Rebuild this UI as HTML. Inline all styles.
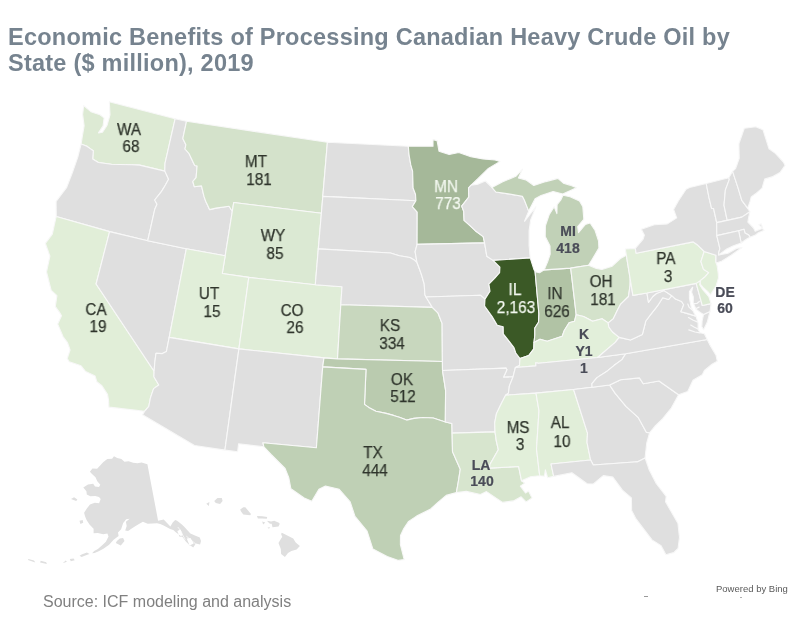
<!DOCTYPE html>
<html><head><meta charset="utf-8"><style>
html,body{margin:0;padding:0;background:#fff;}
body{width:811px;height:620px;position:relative;overflow:hidden;font-family:"Liberation Sans",Arial,sans-serif;-webkit-font-smoothing:antialiased;}
.t,.l,.src,.bing{will-change:transform;}
.t{position:absolute;left:8.4px;top:23.5px;font-weight:bold;font-size:23.5px;letter-spacing:0.24px;line-height:26px;color:#76838f;white-space:nowrap;}
svg{position:absolute;left:0;top:0;}
.l{position:absolute;width:80px;text-align:center;font-size:16.5px;line-height:1;color:#2f352c;white-space:nowrap;transform:scaleX(0.93);-webkit-text-stroke:0.25px #2f352c;}
.b{transform:none;}
.w{color:#f3f8f0;-webkit-text-stroke:0.25px #f3f8f0;}
.b{font-weight:bold;font-size:14.0px;color:#4a4c58;-webkit-text-stroke:0.2px #4a4c58;}
.src{position:absolute;left:42.5px;top:594.4px;font-size:16px;line-height:1;color:#808080;white-space:nowrap;}
.bing{position:absolute;left:715.5px;top:584px;font-size:9.5px;line-height:1;color:#5a5a5a;white-space:nowrap;}
</style></head><body>
<div class="t">Economic Benefits of Processing Canadian Heavy Crude Oil by<br>State ($ million), 2019</div>
<svg width="811" height="620" viewBox="0 0 811 620">
<g stroke="#f8f8f8" stroke-width="1.1" stroke-linejoin="round">
<path d="M81.1 144.0 82.6 134.6 84.1 125.8 82.6 114.2 83.7 105.6 90.9 111.7 100.0 114.8 104.1 117.9 103.1 125.9 98.5 132.9 102.5 132.2 107.1 125.2 110.0 114.9 109.3 101.8 175.1 118.8 165.0 163.4 164.8 171.1 139.6 165.1 132.0 164.7 119.2 164.5 111.5 164.3 98.4 162.5 92.7 159.0 93.3 150.8 90.1 148.6 86.9 146.2 81.1 144.0Z" fill="#ddead4"/>
<path d="M81.1 144.0 86.9 146.2 90.1 148.6 93.3 150.8 92.7 159.0 98.4 162.5 111.5 164.3 119.2 164.5 132.0 164.7 139.6 165.1 164.8 171.1 168.6 179.2 164.0 187.4 161.0 192.2 154.7 200.0 157.0 204.2 154.8 209.2 147.7 240.8 109.6 231.6 56.2 216.5 56.1 201.4 66.5 187.7 72.4 172.6 77.7 157.4 81.1 144.0Z" fill="#dfdfdf"/>
<path d="M56.2 216.5 109.6 231.6 96.1 284.0 154.1 371.2 153.9 376.7 158.8 385.0 153.6 388.6 150.4 398.0 148.8 406.3 144.7 411.2 108.9 407.1 108.5 400.2 107.5 394.4 101.9 385.7 96.8 381.7 95.1 376.1 85.6 371.6 81.0 365.8 69.2 361.8 67.2 358.5 70.1 349.9 67.5 342.7 63.1 336.8 57.7 324.1 61.5 315.8 59.5 312.4 55.3 306.6 56.9 295.7 51.2 290.3 46.5 272.0 49.9 256.1 45.3 243.3 52.3 234.2 56.2 216.5Z" fill="#e1eed8"/>
<path d="M109.6 231.6 147.7 240.8 186.3 248.8 169.2 337.4 166.4 351.6 162.4 353.6 156.0 353.2 154.8 362.2 154.1 371.2 96.1 284.0 109.6 231.6Z" fill="#dfdfdf"/>
<path d="M175.1 118.8 186.5 121.3 182.8 138.6 185.9 144.7 185.0 149.0 189.0 153.5 194.7 165.5 197.1 166.0 196.1 177.6 192.8 181.5 194.3 186.7 201.5 185.9 204.0 196.4 205.7 201.3 209.6 209.6 216.0 208.1 229.0 206.2 232.3 211.3 225.2 255.7 186.3 248.8 147.7 240.8 154.8 209.2 157.0 204.2 154.7 200.0 161.0 192.2 164.0 187.4 168.6 179.2 164.8 171.1 165.0 163.4 175.1 118.8Z" fill="#dfdfdf"/>
<path d="M186.5 121.3 327.4 142.3 322.8 196.4 321.4 213.2 233.7 202.5 232.3 211.3 229.0 206.2 216.0 208.1 209.6 209.6 205.7 201.3 204.0 196.4 201.5 185.9 194.3 186.7 192.8 181.5 196.1 177.6 197.1 166.0 194.7 165.5 189.0 153.5 185.0 149.0 185.9 144.7 182.8 138.6 186.5 121.3Z" fill="#d4e2cb"/>
<path d="M232.3 211.3 233.7 202.5 321.4 213.2 318.3 248.9 315.3 284.8 248.8 277.4 222.3 273.5 225.2 255.7 232.3 211.3Z" fill="#dbe9d3"/>
<path d="M225.2 255.7 222.3 273.5 248.8 277.4 238.9 348.9 169.2 337.4 186.3 248.8 225.2 255.7Z" fill="#e1eed9"/>
<path d="M248.8 277.4 315.3 284.8 342.0 286.8 340.8 304.8 337.5 358.9 324.0 357.9 238.9 348.9 248.8 277.4Z" fill="#e0edd8"/>
<path d="M169.2 337.4 238.9 348.9 224.9 450.1 194.5 445.5 142.5 414.8 144.7 411.2 148.8 406.3 150.4 398.0 153.6 388.6 158.8 385.0 153.9 376.7 154.1 371.2 154.8 362.2 156.0 353.2 162.4 353.6 166.4 351.6 169.2 337.4Z" fill="#dfdfdf"/>
<path d="M238.9 348.9 324.0 357.9 322.7 366.9 316.4 447.7 262.9 442.7 263.9 446.8 238.6 443.8 237.6 451.8 224.9 450.1 238.9 348.9Z" fill="#dfdfdf"/>
<path d="M327.4 142.3 408.3 146.2 409.1 155.1 410.8 164.9 412.6 171.1 413.1 188.0 415.5 194.2 415.9 200.7 322.8 196.4 327.4 142.3Z" fill="#dfdfdf"/>
<path d="M322.8 196.4 415.9 200.7 412.3 206.7 417.2 212.1 417.1 244.4 415.1 251.6 417.0 262.5 413.8 259.7 409.9 257.5 399.4 255.7 390.4 253.0 318.3 248.9 321.4 213.2 322.8 196.4Z" fill="#dfdfdf"/>
<path d="M318.3 248.9 390.4 253.0 399.4 255.7 409.9 257.5 413.8 259.7 417.0 262.5 419.0 267.8 421.6 275.0 424.2 284.0 424.9 294.8 426.0 297.0 432.3 307.4 340.8 304.8 342.0 286.8 315.3 284.8 318.3 248.9Z" fill="#dfdfdf"/>
<path d="M340.8 304.8 432.3 307.4 437.9 312.8 442.1 323.5 442.4 361.5 337.5 358.9 340.8 304.8Z" fill="#c8d7be"/>
<path d="M324.0 357.9 337.5 358.9 442.4 361.5 442.5 370.5 445.6 390.3 445.3 422.0 433.2 418.0 422.9 417.5 414.0 418.4 406.6 420.1 399.3 417.3 393.5 415.4 386.1 413.4 375.9 411.3 368.7 407.4 364.5 404.4 366.0 369.4 322.7 366.9 324.0 357.9Z" fill="#bacbaf"/>
<path d="M322.7 366.9 366.0 369.4 364.5 404.4 368.7 407.4 375.9 411.3 386.1 413.4 393.5 415.4 399.3 417.3 406.6 420.1 414.0 418.4 422.9 417.5 433.2 418.0 445.3 422.0 451.9 423.5 452.1 433.1 452.5 451.6 456.3 460.3 460.3 469.2 458.3 481.8 456.4 492.6 446.2 495.4 438.5 501.8 430.7 509.0 416.6 516.1 408.6 521.4 403.8 528.5 400.5 535.6 400.4 544.5 404.2 559.6 398.5 560.4 387.2 556.6 372.9 549.1 367.1 531.1 355.0 516.4 350.2 501.9 339.2 489.3 325.4 486.1 318.9 489.3 311.8 501.3 304.2 498.0 290.9 488.8 288.8 477.8 285.1 468.5 271.1 454.5 263.9 446.8 262.9 442.7 316.4 447.7 322.7 366.9Z" fill="#bfd0b5"/>
<path d="M408.3 146.2 433.0 146.3 433.0 139.6 437.1 140.6 439.0 151.2 449.2 154.5 458.8 152.5 470.9 156.8 483.0 158.9 495.1 160.0 500.1 161.4 488.4 168.4 477.9 178.7 470.9 185.3 468.5 188.0 468.8 197.0 461.7 206.1 463.7 211.4 464.1 220.4 470.0 225.6 475.3 230.7 483.2 236.6 484.6 242.9 417.1 244.4 417.2 212.1 412.3 206.7 415.9 200.7 415.5 194.2 413.1 188.0 412.6 171.1 410.8 164.9 409.1 155.1 408.3 146.2Z" fill="#a5b899"/>
<path d="M417.1 244.4 484.6 242.9 486.8 256.2 493.1 260.4 499.9 267.2 499.6 272.7 494.6 278.4 488.9 284.1 490.0 291.3 485.0 299.1 480.3 295.2 426.0 297.0 424.9 294.8 424.2 284.0 421.6 275.0 419.0 267.8 417.0 262.5 415.1 251.6 417.1 244.4Z" fill="#dfdfdf"/>
<path d="M426.0 297.0 480.3 295.2 485.0 299.1 484.6 306.0 492.0 316.4 497.3 325.2 503.2 326.7 503.3 333.9 509.4 341.6 514.0 347.7 515.8 353.0 520.0 358.5 519.5 365.4 515.4 367.5 513.1 376.7 503.5 377.3 506.9 369.8 506.1 368.1 442.5 370.5 442.4 361.5 442.1 323.5 437.9 312.8 432.3 307.4 426.0 297.0Z" fill="#dfdfdf"/>
<path d="M442.5 370.5 506.1 368.1 506.9 369.8 503.5 377.3 513.1 376.7 509.4 385.9 508.4 393.2 505.6 395.2 501.7 402.7 496.4 413.8 494.7 422.9 495.0 431.9 452.1 433.1 451.9 423.5 445.3 422.0 445.6 390.3 442.5 370.5Z" fill="#dfdfdf"/>
<path d="M452.1 433.1 495.0 431.9 496.3 440.8 498.3 449.7 489.9 464.5 489.5 468.1 518.6 466.5 521.5 480.7 524.8 483.1 520.4 486.1 525.5 493.0 528.5 491.0 532.1 497.9 526.1 501.9 521.1 496.8 513.5 500.9 502.6 502.4 496.2 498.3 486.5 491.6 480.4 494.5 466.3 491.4 456.4 492.6 458.3 481.8 460.3 469.2 456.3 460.3 452.5 451.6 452.1 433.1Z" fill="#d7e5ce"/>
<path d="M470.9 185.3 478.2 184.1 485.4 181.0 491.9 187.4 495.9 192.0 508.5 193.9 522.4 196.3 524.6 200.6 528.7 211.1 524.5 221.3 529.1 215.5 535.9 206.8 530.7 219.9 529.1 230.8 529.1 245.2 530.2 257.9 493.1 260.4 486.8 256.2 484.6 242.9 483.2 236.6 475.3 230.7 470.0 225.6 464.1 220.4 463.7 211.4 461.7 206.1 468.8 197.0 468.5 188.0 470.9 185.3Z" fill="#dfdfdf"/>
<path d="M493.1 260.4 530.2 257.9 533.8 269.2 535.1 271.8 538.9 314.0 538.5 322.2 534.8 328.0 534.8 335.2 534.0 342.5 533.8 348.9 528.7 355.6 520.0 358.5 515.8 353.0 514.0 347.7 509.4 341.6 503.3 333.9 503.2 326.7 497.3 325.2 492.0 316.4 484.6 306.0 485.0 299.1 490.0 291.3 488.9 284.1 494.6 278.4 499.6 272.7 499.9 267.2 493.1 260.4Z" fill="#3b5926"/>
<path d="M535.1 271.8 539.5 272.8 544.2 269.9 570.7 268.1 576.2 314.7 574.5 321.2 569.1 322.8 564.3 330.5 562.2 336.2 554.0 338.9 547.2 341.3 540.0 339.3 534.0 342.5 534.8 335.2 534.8 328.0 538.5 322.2 538.9 314.0 535.1 271.8Z" fill="#b1c3a5"/>
<path d="M544.2 269.9 547.7 261.6 550.2 254.1 550.0 246.0 545.2 236.5 545.4 225.7 549.3 214.4 554.2 206.7 556.9 213.6 557.1 204.6 561.0 199.6 563.0 195.3 570.1 196.7 579.5 201.0 582.8 206.8 583.8 219.3 577.7 226.5 578.5 232.7 585.2 224.6 590.1 223.0 595.1 230.5 598.5 240.9 598.9 248.1 592.4 259.0 588.6 265.3 570.7 268.1 544.2 269.9Z" fill="#c1d1b7"/>
<path d="M491.9 187.4 502.7 181.8 515.8 176.3 522.5 169.2 518.4 177.9 525.9 179.9 533.8 185.5 545.8 181.6 557.9 178.4 563.4 183.2 569.9 185.1 576.5 187.8 570.5 190.4 562.8 194.0 553.1 191.5 541.1 195.5 535.1 198.8 528.7 211.1 524.6 200.6 522.4 196.3 508.5 193.9 495.9 192.0 491.9 187.4Z" fill="#c1d1b7"/>
<path d="M570.7 268.1 588.6 265.3 596.4 268.4 601.9 269.5 612.2 266.2 620.4 258.5 626.3 255.2 630.2 279.0 630.1 285.2 628.5 296.5 620.7 304.1 617.5 310.1 613.2 318.9 608.2 322.9 602.0 318.7 592.6 321.2 583.6 316.5 576.2 314.7 570.7 268.1Z" fill="#d4e2cb"/>
<path d="M576.2 314.7 583.6 316.5 592.6 321.2 602.0 318.7 608.2 322.9 608.7 326.8 612.3 331.8 619.2 337.4 615.2 342.3 607.6 348.9 597.6 357.5 538.6 363.3 535.7 362.7 535.9 365.9 515.4 367.5 519.5 365.4 520.0 358.5 528.7 355.6 533.8 348.9 534.0 342.5 540.0 339.3 547.2 341.3 554.0 338.9 562.2 336.2 564.3 330.5 569.1 322.8 574.5 321.2 576.2 314.7Z" fill="#e2efda"/>
<path d="M515.4 367.5 535.9 365.9 535.7 362.7 538.6 363.3 597.6 357.5 625.7 353.7 622.0 359.6 614.2 365.3 607.7 370.7 597.0 377.6 591.9 383.7 592.1 387.3 573.6 389.5 536.0 393.1 505.6 395.2 508.4 393.2 509.4 385.9 513.1 376.7 515.4 367.5Z" fill="#dfdfdf"/>
<path d="M505.6 395.2 536.0 393.1 539.0 410.9 536.5 449.0 539.7 475.7 530.5 476.8 521.5 480.7 518.6 466.5 489.5 468.1 489.9 464.5 498.3 449.7 496.3 440.8 495.0 431.9 494.7 422.9 496.4 413.8 501.7 402.7 505.6 395.2Z" fill="#e2efda"/>
<path d="M536.0 393.1 573.6 389.5 587.5 433.2 587.0 442.3 590.6 460.0 551.0 464.0 553.7 476.4 547.6 477.8 545.4 469.9 544.4 476.3 539.7 475.7 536.5 449.0 539.0 410.9 536.0 393.1Z" fill="#e1eed9"/>
<path d="M573.6 389.5 592.1 387.3 609.6 385.0 615.2 393.4 626.0 406.4 638.1 417.3 646.5 432.4 649.6 432.8 646.7 443.2 645.1 458.0 637.2 461.9 634.1 462.0 593.3 465.0 590.6 460.0 587.0 442.3 587.5 433.2 573.6 389.5Z" fill="#dfdfdf"/>
<path d="M590.6 460.0 593.3 465.0 634.1 462.0 637.2 461.9 645.1 458.0 649.3 470.0 656.2 483.5 666.2 496.3 665.5 501.8 677.9 523.2 679.5 537.3 678.1 548.3 673.8 552.6 665.9 554.8 661.1 545.7 652.0 539.9 645.9 531.9 636.0 518.9 631.6 510.6 631.4 498.0 622.4 490.2 612.8 477.1 603.3 475.6 593.4 484.0 587.1 483.8 571.9 472.8 553.7 476.4 551.0 464.0 590.6 460.0Z" fill="#dfdfdf"/>
<path d="M649.6 432.8 646.5 432.4 638.1 417.3 626.0 406.4 615.2 393.4 609.6 385.0 620.6 379.8 639.4 377.9 643.3 383.7 659.0 381.0 678.6 394.7 671.3 408.1 662.5 418.8 654.7 426.5 649.6 432.8Z" fill="#dfdfdf"/>
<path d="M592.1 387.3 591.9 383.7 597.0 377.6 607.7 370.7 614.2 365.3 622.0 359.6 625.7 353.7 707.2 339.5 710.2 345.4 716.0 355.2 717.3 361.3 712.0 364.3 704.4 370.5 702.3 374.7 693.0 380.2 687.7 391.4 678.6 394.7 659.0 381.0 643.3 383.7 639.4 377.9 620.6 379.8 609.6 385.0 592.1 387.3Z" fill="#dfdfdf"/>
<path d="M625.7 353.7 597.6 357.5 607.6 348.9 615.2 342.3 619.2 337.4 630.5 340.0 642.4 334.4 645.8 321.0 650.4 314.8 657.3 306.2 662.7 297.8 668.6 299.5 671.8 295.7 675.5 299.1 681.6 301.5 683.7 304.8 680.9 311.8 686.9 313.4 696.0 316.1 698.1 323.0 698.1 329.5 700.2 332.7 704.4 333.7 707.2 339.5 625.7 353.7Z" fill="#dfdfdf"/>
<path d="M703.5 314.5 710.0 311.6 707.3 322.0 703.6 329.8 701.8 326.8 702.1 321.2Z" fill="#dfdfdf"/>
<path d="M630.2 279.0 630.1 285.2 628.5 296.5 620.7 304.1 617.5 310.1 613.2 318.9 608.2 322.9 608.7 326.8 612.3 331.8 619.2 337.4 630.5 340.0 642.4 334.4 645.8 321.0 650.4 314.8 657.3 306.2 662.7 297.8 668.6 299.5 671.8 295.7 664.1 290.6 656.4 293.5 652.8 296.5 648.5 302.3 646.9 293.0 632.9 295.4 630.2 279.0Z" fill="#dfdfdf"/>
<path d="M646.9 293.0 696.2 283.4 702.3 305.5 711.1 303.6 710.0 311.6 703.5 314.5 700.2 312.4 696.0 309.3 693.2 302.8 693.4 297.2 691.6 292.1 692.7 287.2 689.4 291.6 689.4 298.1 691.4 307.8 694.9 314.5 696.0 316.1 686.9 313.4 680.9 311.8 683.7 304.8 681.6 301.5 675.5 299.1 671.8 295.7 664.1 290.6 656.4 293.5 652.8 296.5 648.5 302.3 646.9 293.0Z" fill="#dfdfdf"/>
<path d="M696.2 283.4 700.3 280.6 699.7 284.8 702.8 289.7 708.8 296.7 711.1 303.6 702.3 305.5 696.2 283.4Z" fill="#ddebd5"/>
<path d="M626.3 255.2 625.3 249.0 635.3 248.4 636.1 253.2 693.2 241.9 697.2 244.7 704.2 251.5 700.9 261.5 703.4 269.2 708.7 272.6 704.5 277.3 700.3 280.6 696.2 283.4 646.9 293.0 632.9 295.4 630.2 279.0 626.3 255.2Z" fill="#e2efda"/>
<path d="M700.3 280.6 704.5 277.3 708.7 272.6 703.4 269.2 700.9 261.5 704.2 251.5 716.0 255.2 715.9 261.7 717.2 266.1 718.2 273.2 718.5 277.8 716.2 285.7 710.5 294.8 707.6 291.4 703.3 287.7 700.4 284.3 700.3 280.6Z" fill="#e2efda"/>
<path d="M635.3 248.4 643.1 239.1 644.4 235.2 641.3 229.2 654.3 224.8 667.3 223.9 676.7 217.9 673.6 209.4 678.3 201.0 686.1 189.2 689.6 187.5 706.2 183.5 709.0 197.7 711.5 208.2 713.6 208.6 716.7 222.6 716.8 235.6 719.9 248.7 718.7 252.7 718.7 254.9 727.9 253.3 736.3 248.4 742.1 247.5 731.2 255.2 721.6 261.3 716.2 263.1 715.9 261.7 716.0 255.2 704.2 251.5 697.2 244.7 693.2 241.9 636.1 253.2 635.3 248.4Z" fill="#dfdfdf"/>
<path d="M706.2 183.5 728.8 177.7 729.3 179.6 725.4 189.9 724.0 205.1 727.2 220.4 716.7 222.6 713.6 208.6 711.5 208.2 709.0 197.7 706.2 183.5Z" fill="#dfdfdf"/>
<path d="M728.8 177.7 732.6 171.3 738.2 188.4 741.8 200.4 747.6 208.2 749.9 211.8 741.9 217.1 727.2 220.4 724.0 205.1 725.4 189.9 729.3 179.6 728.8 177.7Z" fill="#dfdfdf"/>
<path d="M732.6 171.3 735.5 168.7 739.2 158.4 738.9 143.7 744.3 128.3 755.7 126.8 763.0 129.8 769.0 148.8 775.4 153.4 783.4 162.1 785.1 165.4 780.0 172.6 772.0 176.9 764.7 179.1 762.1 188.2 755.6 193.8 751.2 196.9 749.9 201.9 747.6 208.2 741.8 200.4 738.2 188.4 732.6 171.3Z" fill="#dfdfdf"/>
<path d="M727.2 220.4 741.9 217.1 749.9 211.8 748.7 217.2 747.9 222.0 753.6 228.0 755.2 231.3 762.6 228.3 761.4 223.9 758.9 224.6 764.2 230.3 758.4 232.8 755.5 234.9 750.0 237.3 748.7 234.9 745.0 233.1 744.0 229.2 738.6 230.7 716.8 235.6 716.7 222.6 727.2 220.4Z" fill="#dfdfdf"/>
<path d="M738.6 230.7 744.0 229.2 745.0 233.1 748.7 234.9 750.0 237.3 746.4 239.2 741.2 243.0 738.6 230.7Z" fill="#dfdfdf"/>
<path d="M716.8 235.6 738.6 230.7 741.2 243.0 733.0 246.0 726.8 248.9 718.7 254.9 718.7 252.7 719.9 248.7 716.8 235.6Z" fill="#dfdfdf"/>
<path d="M697.2 321.9 693.3 320.3 688.5 317.6M697.5 328.7 694.0 327.0 690.7 325.1M699.8 332.8 695.0 332.0 688.8 329.9M692.6 310.3 689.2 307.4 687.8 304.0M693.6 303.7 696.9 303.5 699.3 301.5M695.6 308.8 699.1 307.1" fill="none" stroke="#f8f8f8" stroke-width="1.2" stroke-linecap="round"/>
<path d="M147.4 464.2 158.1 520.8 163.7 519.4 170.4 526.4 172.7 522.6 175.2 520.0 177.1 520.8 181.3 524.1 184.0 526.5 190.4 533.5 195.5 535.7 199.8 537.5 201.0 541.0 200.1 544.6 195.9 543.4 193.2 547.6 188.9 544.4 185.8 541.5 182.8 537.2 179.4 535.0 175.5 532.1 173.3 530.1 170.1 529.0 163.7 525.4 160.2 523.9 157.0 523.2 152.3 523.4 147.7 523.7 142.9 521.8 138.5 524.2 135.6 525.9 131.7 528.4 128.1 531.0 125.2 530.5 126.7 526.1 125.9 521.8 129.7 518.8 126.2 519.3 123.2 523.1 121.1 529.3 118.0 532.4 118.6 536.1 113.6 539.7 109.1 544.8 103.4 548.8 98.7 551.2 94.6 552.9 92.1 553.2 94.2 551.0 97.9 548.9 101.9 545.5 105.9 541.8 108.5 536.4 107.4 533.5 103.2 534.2 97.8 533.0 93.6 533.2 93.6 528.8 89.5 524.4 86.7 520.2 85.2 516.8 84.1 512.8 87.0 508.3 90.0 504.4 94.8 502.7 99.1 503.2 100.7 499.1 99.0 497.0 95.2 495.9 90.3 496.3 86.8 494.4 86.4 491.2 83.3 487.4 88.0 484.6 93.2 483.7 95.0 486.5 99.0 487.0 100.3 484.7 97.3 481.2 95.5 477.2 92.0 474.1 89.9 471.8 92.4 468.6 97.1 468.8 100.6 465.0 103.4 462.0 107.3 459.1 112.1 458.8 114.0 456.2 117.2 457.9 121.4 459.1 124.5 461.8 128.7 461.3 133.1 462.8 137.4 463.3 141.6 462.4 147.4 464.2ZM115.8 542.9 120.8 545.4 124.5 541.0 123.1 537.9 119.8 538.6 116.9 541.0ZM80.4 524.1 83.2 522.7 82.7 520.1 79.5 520.8ZM71.0 498.9 76.2 500.9 77.4 499.6 74.1 497.2ZM86.6 555.0 89.5 554.1 86.9 552.5 81.6 554.5 79.6 555.7 81.6 557.0ZM70.8 561.3 74.7 560.2 73.6 558.4 69.8 558.9ZM62.7 563.3 66.9 561.7 65.7 560.5ZM40.1 562.5 46.9 564.0 46.2 562.2 40.7 560.8ZM28.0 560.1 35.3 562.5 34.0 560.4 28.4 559.0ZM189.6 545.5 193.7 543.5 190.5 538.1 186.7 538.6ZM179.5 536.8 182.6 535.3 180.5 529.5 177.3 531.0Z" fill="#dfdfdf" stroke="none"/>
<path d="M177.8 527.0 181.1 531.3 183.1 535.8 185.3 539.7M186.3 536.1 189.7 539.0 193.2 541.8 196.3 544.6" fill="none" stroke="#fff" stroke-width="0.7"/>
<path d="M281.8 532.8 286.3 534.9 293.2 538.5 295.7 542.4 299.9 546.1 296.6 549.5 291.4 550.9 288.0 553.1 284.9 557.0 281.1 554.0 280.8 549.1 278.5 542.9 281.1 538.5 282.3 537.0 281.1 534.0ZM267.5 520.7 271.1 521.6 274.2 520.7 279.4 523.0 279.6 524.2 278.5 526.4 272.5 527.3 271.7 523.7 269.9 523.7 267.5 521.6ZM267.4 527.8 269.9 526.9 269.1 528.7ZM262.2 521.6 265.3 522.5 263.1 524.6ZM256.9 515.9 262.2 516.2 267.2 516.9 266.8 518.7 262.2 518.4 257.9 518.4ZM240.2 509.5 243.3 507.3 245.3 507.2 251.0 514.1 250.2 515.2 243.3 514.4 241.0 511.4ZM214.2 501.1 217.5 497.9 221.8 498.1 222.6 501.1 220.1 504.1 215.8 502.9ZM206.3 503.8 209.4 502.0 208.9 505.9Z" fill="#dfdfdf" stroke="none"/>
</g></svg>
<div class="l" style="left:89.2px;top:120.7px">WA</div>
<div class="l" style="left:90.6px;top:137.5px">68</div>
<div class="l" style="left:215.8px;top:153.3px">MT</div>
<div class="l" style="left:218.7px;top:170.7px">181</div>
<div class="l" style="left:233.4px;top:227.2px">WY</div>
<div class="l" style="left:235.2px;top:245.2px">85</div>
<div class="l" style="left:55.6px;top:300.6px">CA</div>
<div class="l" style="left:57.6px;top:317.5px">19</div>
<div class="l" style="left:169.0px;top:285.2px">UT</div>
<div class="l" style="left:171.9px;top:303.3px">15</div>
<div class="l" style="left:252.1px;top:302.3px">CO</div>
<div class="l" style="left:254.5px;top:319.3px">26</div>
<div class="l" style="left:350.1px;top:316.5px">KS</div>
<div class="l" style="left:352.0px;top:334.7px">334</div>
<div class="l" style="left:361.7px;top:370.5px">OK</div>
<div class="l" style="left:363.3px;top:387.6px">512</div>
<div class="l" style="left:332.6px;top:443.7px">TX</div>
<div class="l" style="left:335.1px;top:461.5px">444</div>
<div class="l b" style="left:441.2px;top:457.6px">LA</div>
<div class="l b" style="left:441.8px;top:473.9px">140</div>
<div class="l" style="left:478.1px;top:418.6px">MS</div>
<div class="l" style="left:480.2px;top:436.3px">3</div>
<div class="l" style="left:519.8px;top:414.1px">AL</div>
<div class="l" style="left:522.3px;top:432.5px">10</div>
<div class="l b" style="left:528.2px;top:224.1px">MI</div>
<div class="l b" style="left:527.9px;top:241.0px">418</div>
<div class="l" style="left:561.0px;top:273.3px">OH</div>
<div class="l" style="left:562.8px;top:290.5px">181</div>
<div class="l" style="left:515.2px;top:285.2px">IN</div>
<div class="l" style="left:516.9px;top:303.4px">626</div>
<div class="l w" style="left:474.6px;top:280.7px">IL</div>
<div class="l w" style="left:476.4px;top:299.0px">2,163</div>
<div class="l w" style="left:405.5px;top:177.8px">MN</div>
<div class="l w" style="left:407.5px;top:195.2px">773</div>
<div class="l" style="left:626.0px;top:250.4px">PA</div>
<div class="l" style="left:628.0px;top:267.9px">3</div>
<div class="l b" style="left:685.0px;top:284.9px">DE</div>
<div class="l b" style="left:684.9px;top:301.4px">60</div>
<div class="l b" style="left:544.1px;top:326.7px">K</div>
<div class="l b" style="left:543.7px;top:343.7px">Y1</div>
<div class="l b" style="left:543.9px;top:360.9px">1</div>
<div class="src">Source: ICF modeling and analysis</div>
<div class="bing">Powered by Bing</div>
<div style="position:absolute;left:644px;top:596px;width:4px;height:1px;background:#9a9a9a"></div>
<div style="position:absolute;left:739.5px;top:596.5px;width:2px;height:1.5px;background:#b0b0b0"></div>
</body></html>
